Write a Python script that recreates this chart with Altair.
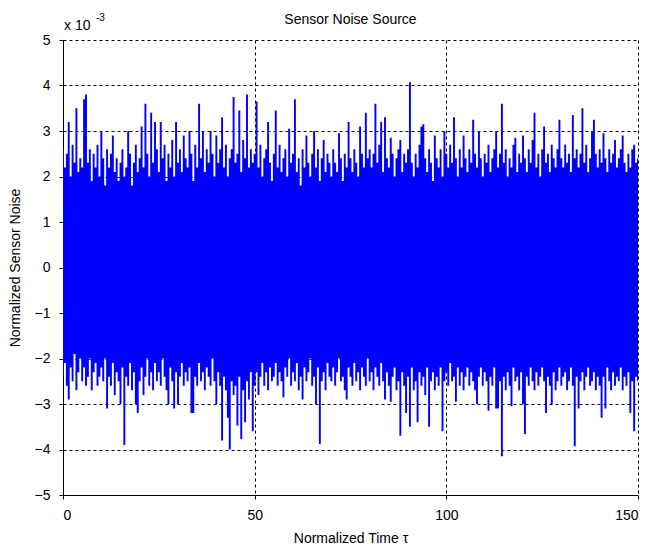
import altair as alt
import pandas as pd

# Per-bin envelope of the sensor noise (units of 1e-3), one bin every 0.5 tau
upper = [
    2.6, 2.2, 2.5, 3.2, 2.0, 2.7, 2.3, 3.5, 2.1, 2.4,
    2.2, 3.7, 3.8, 2.3, 2.6, 1.9, 2.5, 2.2, 2.7, 2.0,
    3.0, 2.4, 1.8, 2.6, 2.2, 2.5, 2.9, 2.1, 2.4, 1.9,
    2.3, 2.6, 2.0, 2.2, 3.0, 2.5, 1.8, 2.3, 2.7, 2.1,
    2.4, 3.1, 2.2, 3.6, 2.5, 2.0, 3.4, 2.3, 3.2, 2.6,
    2.1, 3.2, 2.4, 2.7, 1.9, 2.5, 2.2, 2.8, 2.0, 3.2,
    2.3, 2.6, 2.1, 2.9, 2.4, 2.2, 3.0, 2.5, 1.9, 2.7,
    2.2, 3.6, 2.4, 3.0, 2.1, 2.6, 2.3, 3.0, 2.5, 2.0,
    2.9, 2.3, 2.6, 3.3, 2.2, 2.7, 2.0, 2.4, 2.6, 3.75,
    2.3, 2.5, 3.45, 2.1, 2.8, 2.4, 3.8, 2.2, 2.6, 2.3,
    2.5, 3.65, 2.2, 2.7, 2.0, 2.4, 2.6, 3.2, 2.3, 1.9,
    2.5, 3.45, 2.2, 2.7, 2.1, 2.4, 2.6, 2.0, 3.05, 2.3,
    2.5, 3.7, 2.1, 2.4, 1.8, 2.6, 2.2, 2.9, 2.3, 2.0,
    2.5, 3.0, 2.2, 2.6, 1.9, 2.4, 2.8, 2.1, 2.5, 2.3,
    2.0, 2.6, 2.3, 2.1, 2.95, 2.4, 1.9, 2.5, 2.2, 3.2,
    2.4, 2.1, 2.6, 2.3, 2.0, 3.1, 2.5, 2.2, 3.4, 2.4,
    2.6, 2.2, 2.5, 3.6, 2.3, 2.7, 3.2, 2.1, 3.3, 2.4,
    2.2, 2.85, 2.5, 2.0, 2.4, 2.6, 2.8, 2.1, 2.5, 2.3,
    2.6, 4.07, 2.3, 2.0, 2.5, 2.2, 2.7, 3.1, 3.15, 2.4,
    2.1, 2.6, 2.3, 1.9, 2.9, 2.4, 2.2, 2.6, 2.0, 3.0,
    2.5, 2.2, 2.7, 2.3, 3.3, 2.4, 2.0, 2.6, 2.2, 2.9,
    2.4, 2.1, 2.6, 2.3, 3.25, 2.5, 2.2, 3.0, 2.4, 2.0,
    2.5, 2.3, 2.7, 2.1, 2.4, 2.6, 3.0, 2.2, 2.5, 3.6,
    2.3, 2.6, 2.0, 2.4, 2.2, 2.7, 2.85, 2.1, 2.5, 2.3,
    2.9, 2.4, 2.1, 2.6, 2.3, 2.8, 3.4, 2.2, 2.5, 2.0,
    2.6, 3.1, 2.3, 2.5, 2.1, 2.7, 2.4, 2.2, 2.6, 3.25,
    2.4, 2.2, 2.7, 2.3, 2.5, 2.1, 3.35, 2.4, 2.6, 2.2,
    2.5, 3.5, 2.3, 2.7, 2.1, 2.4, 3.0, 3.25, 2.5, 2.2,
    2.6, 2.3, 2.95, 2.4, 2.1, 2.6, 2.3, 2.5, 2.8, 2.2,
    2.4, 2.6, 2.9, 2.3, 2.1, 2.5, 2.2, 2.6, 2.7, 2.3,
    2.4,
]

lower = [
    -2.4, -2.1, -2.6, -2.9, -2.2, -2.5, -1.9, -2.7, -2.3, -2.0,
    -2.5, -2.2, -2.6, -2.4, -2.0, -2.7, -2.3, -2.1, -2.6, -2.4,
    -2.2, -2.5, -2.0, -3.1, -2.4, -2.6, -2.1, -2.8, -2.3, -2.5,
    -3.0, -2.2, -3.9, -2.4, -2.6, -2.1, -2.7, -2.3, -3.0, -3.2,
    -2.5, -2.2, -2.8, -2.4, -2.0, -2.6, -2.3, -2.7, -2.1, -2.5,
    -2.3, -2.6, -2.0, -2.4, -2.7, -3.0, -2.2, -2.5, -3.1, -2.3,
    -3.0, -2.4, -2.1, -2.6, -2.3, -2.5, -2.2, -3.2, -3.2, -2.4,
    -2.6, -2.1, -2.5, -2.3, -2.7, -2.2, -2.4, -2.6, -2.0, -2.5,
    -3.0, -2.3, -2.6, -3.8, -2.4, -2.7, -3.3, -4.0, -2.5, -2.8,
    -2.6, -3.47, -2.4, -3.77, -2.7, -3.4, -2.5, -2.9, -2.3, -3.6,
    -2.6, -2.3, -2.8, -2.4, -2.1, -2.6, -2.3, -2.7, -2.2, -2.5,
    -2.4, -2.1, -2.6, -2.3, -2.5, -2.85, -2.2, -2.4, -2.0, -2.6,
    -2.3, -2.5, -2.1, -2.7, -2.4, -2.9, -2.2, -2.5, -2.3, -2.0,
    -2.6, -2.4, -3.0, -2.2, -3.88, -2.5, -2.3, -2.7, -2.1, -2.4,
    -2.5, -2.2, -2.6, -2.3, -2.0, -2.5, -2.4, -2.7, -2.9, -2.2,
    -2.4, -2.6, -2.1, -2.5, -2.3, -2.7, -2.2, -2.4, -2.6, -2.0,
    -2.5, -2.3, -2.7, -2.2, -2.4, -2.6, -2.1, -2.5, -2.9, -2.3,
    -2.6, -2.95, -2.4, -2.2, -2.7, -2.5, -3.7, -2.3, -2.6, -3.2,
    -2.4, -3.5, -2.2, -2.7, -2.5, -3.4, -2.3, -2.6, -2.4, -2.8,
    -2.2, -3.5, -2.5, -2.3, -2.7, -2.4, -2.6, -2.2, -3.6, -2.5,
    -2.3, -2.6, -2.1, -2.5, -2.4, -2.95, -2.2, -2.6, -2.3, -2.7,
    -2.4, -2.2, -2.6, -2.3, -2.5, -2.7, -3.0, -2.4, -2.2, -2.6,
    -2.3, -2.5, -3.15, -2.4, -2.6, -2.2, -3.1, -3.1, -2.5, -4.15,
    -2.4, -2.7, -2.3, -2.6, -3.05, -2.2, -2.5, -2.4, -2.7, -2.3,
    -3.0, -3.66, -2.4, -2.6, -2.2, -2.5, -2.7, -2.3, -2.6, -2.4,
    -2.2, -2.5, -3.2, -2.4, -2.6, -3.0, -2.3, -2.7, -2.5, -2.2,
    -2.6, -2.4, -2.3, -2.7, -2.5, -2.2, -2.6, -3.93, -2.4, -3.1,
    -2.5, -2.3, -2.7, -2.4, -2.2, -2.6, -2.5, -2.3, -2.7, -2.4,
    -2.6, -3.3, -2.4, -3.1, -2.2, -2.5, -2.7, -2.3, -2.6, -2.4,
    -2.5, -2.2, -2.7, -2.4, -2.6, -2.3, -3.2, -2.5, -3.6, -2.4,
    -2.5,
]

bin_step = 0.5
times = [i * bin_step for i in range(len(upper))]

x_ticks = [0, 50, 100, 150]
y_ticks = [-5, -4, -3, -2, -1, 0, 1, 2, 3, 4, 5]

FONT = "Liberation Sans"
W, H = 575, 455

df = pd.DataFrame({"t": times, "hi": upper, "lo": lower})

noise = alt.Chart(df).mark_area(
    color="#0000ff", interpolate="step", clip=True, opacity=1
).encode(
    x=alt.X(
        "t:Q",
        scale=alt.Scale(domain=[0, 150], nice=False, zero=False),
        axis=alt.Axis(values=x_ticks, title="Normalized Time τ", format="d",
                      labelPadding=9, titlePadding=9),
    ),
    y=alt.Y(
        "lo:Q",
        scale=alt.Scale(domain=[-5, 5], nice=False),
        axis=alt.Axis(values=y_ticks, title="Normalized Sensor Noise", format="d",
                      labelPadding=9, titlePadding=12),
    ),
    y2="hi:Q",
)

title = alt.Chart(pd.DataFrame({"s": ["Sensor Noise Source"]})).mark_text(
    font=FONT, fontSize=14, color="black", align="center", baseline="middle"
).encode(x=alt.value(W / 2), y=alt.value(-20), text="s:N")

exp_base = alt.Chart(pd.DataFrame({"s": ["x 10"]})).mark_text(
    font=FONT, fontSize=14, color="black", align="left", baseline="middle"
).encode(x=alt.value(1), y=alt.value(-14), text="s:N")

exp_pow = alt.Chart(pd.DataFrame({"s": ["-3"]})).mark_text(
    font=FONT, fontSize=10, color="black", align="left", baseline="middle"
).encode(x=alt.value(33), y=alt.value(-22), text="s:N")

chart = alt.layer(noise, title, exp_base, exp_pow).properties(
    width=W,
    height=H,
    autosize=alt.AutoSizeParams(type="none"),
    padding={"left": 63, "top": 40, "right": 13, "bottom": 57},
    background="white",
).configure_view(stroke=None).configure_axis(
    labelFont=FONT, labelFontSize=14, labelColor="black",
    titleFont=FONT, titleFontSize=14, titleFontWeight="normal", titleColor="black",
    domainColor="black", domainWidth=1, tickColor="black", tickSize=4,
    grid=True, gridColor="black", gridDash=[3, 3], gridWidth=1, gridOpacity=1,
)

chart.save("out.html", embed_options={"renderer": "svg", "actions": False})
